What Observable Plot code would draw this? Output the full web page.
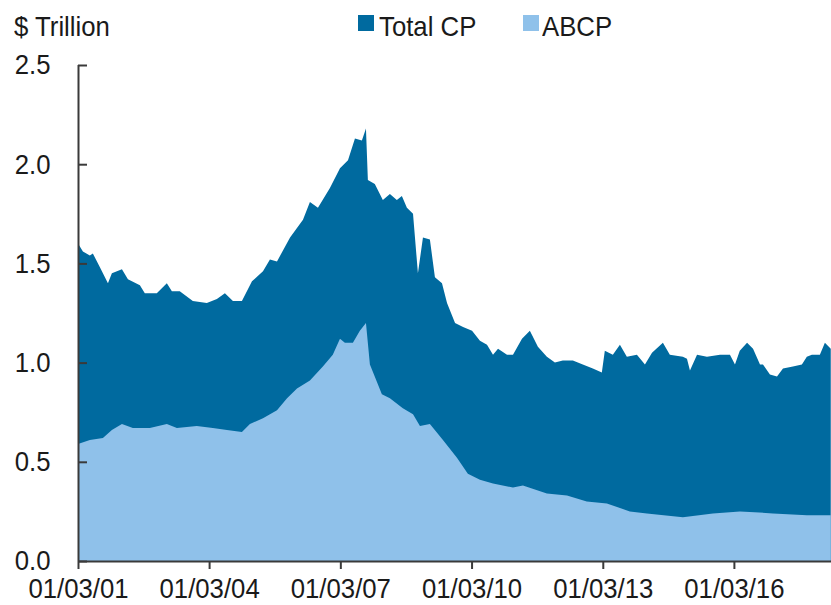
<!DOCTYPE html>
<html>
<head>
<meta charset="utf-8">
<script src="https://cdn.jsdelivr.net/npm/d3@7"></script>
<script src="https://cdn.jsdelivr.net/npm/@observablehq/plot@0.6"></script>
<style>
  body { margin: 0; background: #fff; }
  #wrap { position: relative; width: 831px; height: 605px; overflow: hidden;
    font-family: "Liberation Sans", Arial, sans-serif; color: #1a1a1a; }
  .lbl { position: absolute; font-size: 28px; line-height: 28px; white-space: nowrap;
    transform: scaleX(0.92); transform-origin: left center; }
  .sw { position: absolute; width: 16px; height: 16px; }
  #chart { position: absolute; left: 0; top: 0; }
</style>
</head>
<body>
<div id="wrap">
  <div id="chart"></div>
  <div class="lbl" style="left:14px; top:13px;">$ Trillion</div>
  <div class="sw" style="left:358px; top:15px; background:#006a9f;"></div>
  <div class="lbl" style="left:379px; top:13px;">Total CP</div>
  <div class="sw" style="left:523px; top:15px; background:#8fc1ea;"></div>
  <div class="lbl" style="left:542px; top:13px;">ABCP</div>
</div>
<script>
const totalDates = ["2001-01-03","2001-02-13","2001-04-12","2001-05-07","2001-07-05","2001-09-10","2001-10-13","2002-01-05","2002-02-24","2002-06-04","2002-07-15","2002-10-23","2003-01-15","2003-02-26","2003-05-03","2003-08-20","2003-12-15","2004-03-08","2004-05-14","2004-07-20","2004-10-03","2004-12-26","2005-03-28","2005-05-25","2005-07-23","2005-11-09","2006-02-25","2006-04-24","2006-06-30","2006-10-08","2006-12-31","2007-03-08","2007-05-05","2007-07-02","2007-08-05","2007-08-21","2007-10-18","2007-12-24","2008-02-21","2008-04-19","2008-05-31","2008-07-12","2008-09-01","2008-10-12","2008-11-23","2009-01-20","2009-03-03","2009-05-01","2009-06-12","2009-08-18","2009-10-24","2010-01-07","2010-03-14","2010-05-12","2010-07-01","2010-08-12","2010-10-26","2010-12-15","2011-02-28","2011-05-05","2011-07-11","2011-09-24","2011-11-30","2012-02-04","2012-04-28","2012-07-20","2012-10-12","2012-12-26","2013-01-20","2013-03-28","2013-05-26","2013-07-23","2013-10-15","2013-12-21","2014-02-18","2014-05-20","2014-07-17","2014-11-03","2014-12-07","2015-01-01","2015-03-01","2015-05-23","2015-09-09","2015-12-01","2016-01-12","2016-02-21","2016-04-22","2016-06-11","2016-08-08","2016-09-02","2016-10-30","2016-12-28","2017-02-16","2017-05-10","2017-07-24","2017-09-03","2017-10-15","2017-12-21","2018-02-01","2018-03-22"];
const totalValues = [1.60,1.56,1.54,1.55,1.48,1.40,1.45,1.47,1.42,1.39,1.35,1.35,1.40,1.36,1.36,1.31,1.30,1.32,1.35,1.31,1.31,1.41,1.46,1.52,1.51,1.63,1.72,1.81,1.78,1.88,1.98,2.02,2.13,2.12,2.18,1.92,1.90,1.82,1.85,1.82,1.84,1.78,1.75,1.45,1.63,1.62,1.43,1.40,1.30,1.20,1.18,1.16,1.11,1.09,1.04,1.07,1.04,1.04,1.12,1.16,1.08,1.03,1.00,1.01,1.01,0.99,0.97,0.95,1.06,1.04,1.09,1.03,1.04,0.99,1.05,1.10,1.04,1.03,1.02,0.96,1.04,1.03,1.04,1.04,0.99,1.06,1.10,1.07,0.99,0.99,0.94,0.93,0.97,0.98,0.99,1.03,1.04,1.04,1.10,1.07];

const abcpDates = ["2001-01-03","2001-04-12","2001-07-30","2001-10-13","2002-01-05","2002-04-06","2002-08-26","2003-01-15","2003-04-09","2003-09-22","2004-02-03","2004-05-31","2004-10-03","2004-12-09","2005-03-28","2005-07-23","2005-10-15","2006-01-06","2006-04-24","2006-08-10","2006-11-01","2006-12-31","2007-02-10","2007-04-18","2007-06-15","2007-08-05","2007-09-07","2007-12-16","2008-02-21","2008-06-08","2008-09-01","2008-10-29","2009-01-20","2009-05-09","2009-09-03","2009-12-03","2010-03-14","2010-07-01","2010-12-15","2011-03-08","2011-09-24","2012-03-10","2012-08-22","2013-02-06","2013-08-17","2014-01-06","2014-11-03","2015-07-12","2016-02-22","2016-11-24","2017-09-04","2018-03-22"];
const abcpValues = [0.59,0.61,0.62,0.66,0.69,0.67,0.67,0.69,0.67,0.68,0.67,0.66,0.65,0.69,0.72,0.76,0.82,0.87,0.91,0.98,1.04,1.12,1.10,1.10,1.16,1.20,0.99,0.84,0.82,0.77,0.74,0.68,0.69,0.61,0.52,0.44,0.41,0.39,0.37,0.38,0.34,0.33,0.30,0.29,0.25,0.24,0.22,0.24,0.25,0.24,0.23,0.23];

const xTicks = ["2001-01-03","2004-01-03","2007-01-03","2010-01-03","2013-01-03","2016-01-03"];
const yTicks = [0, 0.5, 1.0, 1.5, 2.0, 2.5];
const xDomain = ["2001-01-03", "2018-03-24"];

const parse = d3.utcParse("%Y-%m-%d");
const total = totalDates.map((d, i) => ({date: parse(d), value: totalValues[i]}));
const abcp = abcpDates.map((d, i) => ({date: parse(d), value: abcpValues[i]}));

const DARK = "#006a9f", LIGHT = "#8fc1ea", AXIS = "#3a3a3a";
const FONT = '"Liberation Sans", Arial, sans-serif';

const chart = Plot.plot({
  width: 831,
  height: 605,
  marginLeft: 78,
  marginRight: 0,
  marginTop: 65,
  marginBottom: 44,
  style: {fontFamily: FONT, fontSize: "28px", color: "#1a1a1a", background: "white", overflow: "visible"},
  x: {type: "utc", domain: xDomain.map(parse), label: null},
  y: {domain: [0, 2.5], label: null},
  marks: [
    Plot.areaY(total, {x: "date", y1: 0, y2: "value", fill: DARK, curve: "linear"}),
    Plot.areaY(abcp, {x: "date", y1: 0, y2: "value", fill: LIGHT, curve: "linear"}),
    Plot.ruleY([0], {stroke: AXIS, strokeWidth: 2}),
    Plot.ruleX([parse(xDomain[0])], {stroke: AXIS, strokeWidth: 2}),
    Plot.tickY(yTicks, {y: d => d, stroke: AXIS, strokeWidth: 2, insetRight: 831 - 78 - 9}),
    Plot.axisX(xTicks.map(parse), {x: d => d, label: null, tickFormat: d3.utcFormat("%m/%d/%y"), tickSize: 8, tickPadding: 9, stroke: AXIS, strokeWidth: 2, fontSize: 28, fill: "#1a1a1a"}),
    Plot.axisY(yTicks, {y: d => d, label: null, tickFormat: d3.format(".1f"), tickSize: 0, tickPadding: 28, fontSize: 28, fill: "#1a1a1a"})
  ]
});
chart.querySelectorAll('g[aria-label$="tick label"] text').forEach(t => {
  t.setAttribute("transform", (t.getAttribute("transform") || "") + " scale(0.92,1)");
});
document.getElementById("chart").appendChild(chart);
</script>
</body>
</html>
